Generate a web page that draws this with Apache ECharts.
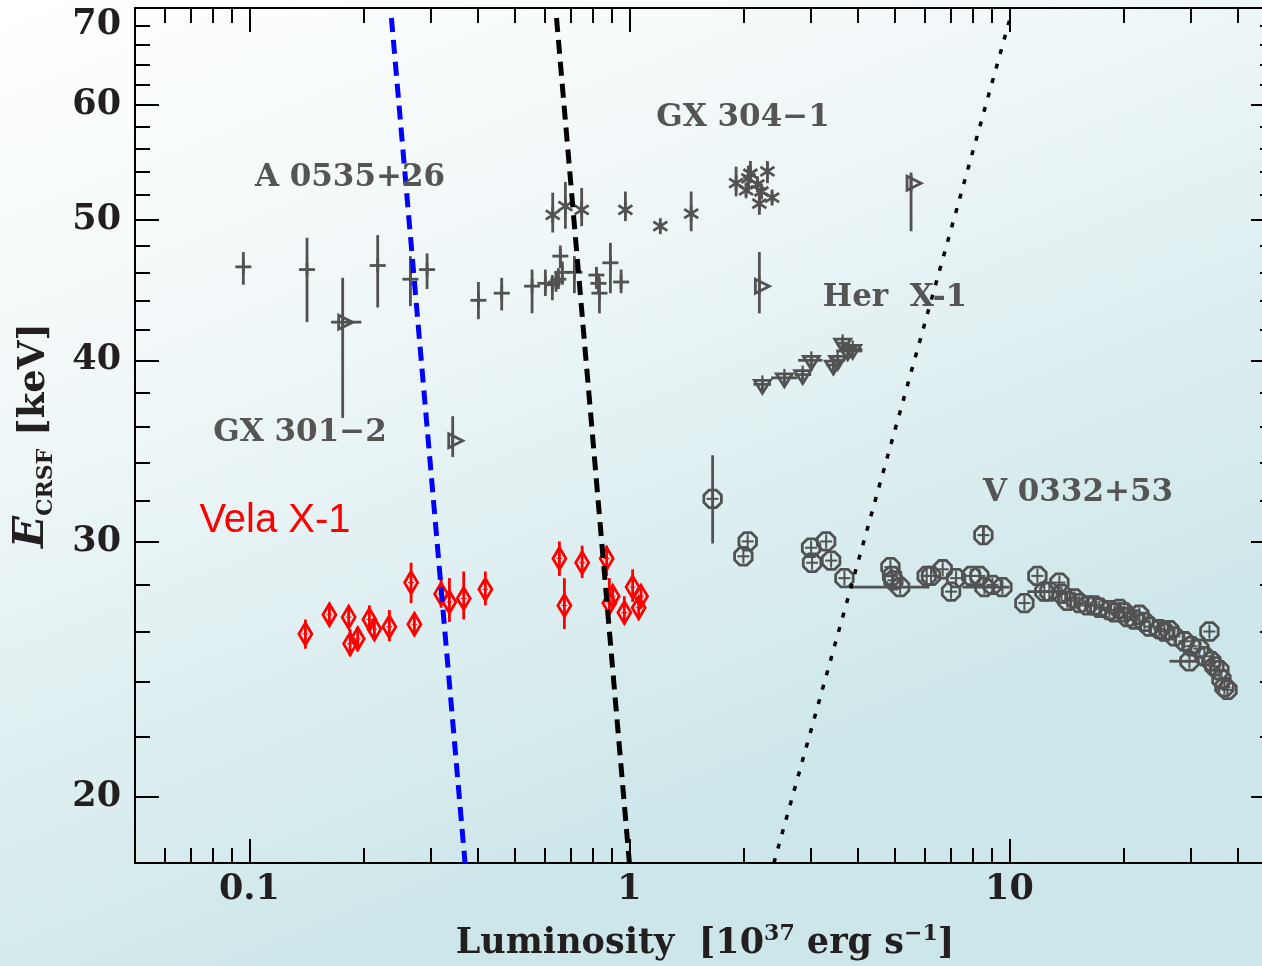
<!DOCTYPE html>
<html><head><meta charset="utf-8">
<script src="https://cdn.jsdelivr.net/npm/echarts@6/dist/echarts.min.js"></script>
<style>html,body{margin:0;padding:0;background:#fff;}#c{width:1262px;height:966px;}</style>
</head><body><div id="c"></div>
<script>
// ---- axis ticks ----
const xRange = [0.05, 50];   // right frame lies just beyond the picture edge
const xMajorTicks = [0.1, 1, 10];
const xMajorLabels = ['0.1', '1', '10'];
const xMinorTicks = [0.06,0.07,0.08,0.09,0.2,0.3,0.4,0.5,0.6,0.7,0.8,0.9,2,3,4,5,6,7,8,9,20,30,40];
const yRange = [18, 70];
const yMajorTicks = [20, 30, 40, 50, 60, 70];
const yMinorTicks = [22,24,26,28,32,34,36,38,42,44,46,48,52,54,56,58,62,64,66,68];

// ---- data: [L, E, Elow, Ehigh, Llow, Lhigh] ----
const a0535 = [
 [0.0964,46.4,45.1,47.5],[0.1418,46.2,42.5,48.6],[0.2176,46.5,43.5,48.8],[0.2653,45.5,43.6,47.2],
 [0.2935,46.2,44.8,47.4],[0.4006,44.0,42.7,45.3],[0.4613,44.5,43.3,45.6],[0.5545,45.0,43.1,46.2],
 [0.601,45.2,44.3,46.2],[0.627,45.1,44.0,45.8],[0.6414,45.3,44.6,46.0],[0.6504,45.5,44.8,46.3],
 [0.658,47.2,46.3,48.0],[0.666,46.0,45.1,46.8],[0.7166,46.0,44.5,47.2],[0.8188,45.8,44.8,46.4],
 [0.8288,45.2,44.5,45.9],[0.834,44.5,43.1,45.6],[0.8913,46.7,44.5,48.2],[0.951,45.3,44.5,46.2]
];
const gx304 = [
 [0.6284,50.4,49.0,52.2],[0.6785,51.1,49.3,53.1],[0.7489,50.8,49.5,52.6],[0.976,50.8,49.9,52.3],
 [1.206,49.5,49.2,49.8],[1.454,50.5,49.1,52.3],[1.909,53.0,51.9,54.4],[2.057,53.4,52.2,54.5],
 [2.082,53.8,53.0,54.9],[2.028,52.4,51.9,52.9],[2.172,52.9,52.3,53.5],[2.198,51.3,50.4,52.6],
 [2.308,54.0,53.0,54.9],[2.374,51.8,51.3,52.3],[2.226,52.3,51.7,52.9]
];
const gx301 = [
 [0.176,42.5,36.5,45.6,0.164,0.197],[0.3428,35.2,34.3,36.6],[2.198,45.0,43.1,47.5],[5.511,53.0,49.1,53.9]
];
const herx1 = [
 [2.239,38.5,38.2,38.8,2.12,2.36],[2.558,38.9,38.6,39.2,2.36,2.77],[2.858,39.1,38.8,39.4,2.72,3.01],
 [3.012,40.0,39.7,40.3,2.78,3.22],[3.442,39.7,39.4,40.0,3.3,3.6],[3.533,40.0,39.7,40.3,3.4,3.7],
 [3.641,41.1,40.7,41.5,3.5,3.8],[3.754,40.6,40.3,40.9,3.5,4.1],[3.869,40.7,40.4,41.0,3.6,4.1]
];
const v0332 = [
 [1.656,32.1,29.9,34.4],[2.048,30.0],[1.995,29.3],[3.007,29.7],[3.294,30.0],[3.025,29.0],[3.395,29.1],
 [3.680,28.3],[4.863,28.8],[4.913,28.4],[4.951,28.2],[5.157,27.9,null,null,3.84,6.16],[6.059,28.4],
 [6.221,28.4],[6.675,28.7],[7.239,28.3],[7.023,27.7],[8.542,30.3,29.9,30.7],[7.931,28.4],[8.339,28.4],
 [8.596,27.9,null,null,7.52,10.0],[9.022,28.0],[9.585,27.9],
 [10.95,27.2],[11.85,28.4],[12.36,27.7,null,null,11.15,13.71],[12.74,27.7],[13.54,28.1],[13.71,27.6],
 [14.21,27.3],[14.83,27.4],[15.29,27.2],[16.04,27.1],[16.74,27.1],[17.25,27.0],[18.33,26.9],
 [18.89,26.8],[19.48,26.95],[20.07,26.8],[20.44,26.6],[21.33,26.5],[21.98,26.7],[22.66,26.4],
 [23.36,26.2],[24.81,26.1],[25.58,26.0],[26.37,26.05],[27.18,25.8],[28.87,25.6],
 [29.77,24.8,null,null,26.37,31.62],[30.13,25.4],[31.62,25.3],[32.6,25.0],[33.6,26.0],[34.0,24.8],
 [34.64,24.6],[35.7,24.45],[36.14,24.1],[36.8,23.8],[37.5,23.7]
];
const velax1 = [
 [0.1404,25.9,25.3,26.5],[0.1624,26.7,26.3,27.1],[0.1825,26.6,26.2,27.1],[0.1841,25.5,25.0,26.1],
 [0.1928,25.7,25.2,26.2],[0.2069,26.5,26.0,27.1],[0.2133,26.1,25.7,26.6],[0.2335,26.2,25.6,26.9],
 [0.2664,28.1,27.2,29.0],[0.2718,26.3,25.9,26.7],[0.3195,27.6,27.0,28.3],[0.336,27.25,26.4,28.3],
 [0.3664,27.4,26.5,28.6],[0.4178,27.8,27.1,28.6],[0.6544,29.2,28.4,30.0],[0.6745,27.1,26.1,28.3],
 [0.7511,29.0,28.3,29.8],[0.8714,29.2,28.4,29.8],[0.9039,27.5,27.0,28.0],[0.8857,27.2,26.7,28.3],
 [0.97,26.8,26.3,27.5],[1.02,27.9,27.25,28.7],[1.073,27.5,27.0,28.0],[1.058,27.0,26.5,27.5]
];
// reference lines: [[L1,E1],[L2,E2]]
const blueDashed = [[0.2365,68.9],[0.3694,18]];
const blackDashed = [[0.643,68.9],[1.0,18]];
const blackDotted = [[2.40,18],[10.0,68.6]];

// ---- build ----
const L = Math.log10;
const GREY = '#525252', RED = '#ff0000';
const FONT = 'DejaVu Serif';
function rows(arr){
  return arr.map(d => {
    const x = d[0], y = d[1];
    return [L(x), L(y), L(d[2] ?? y), L(d[3] ?? y), L(d[4] ?? x), L(d[5] ?? x)];
  });
}
function seg(x1,y1,x2,y2,c,w){ return {type:'line', shape:{x1,y1,x2,y2}, style:{stroke:c, lineWidth:w, fill:null}}; }
function poly(pts,c,w){ return {type:'polygon', shape:{points:pts}, style:{stroke:c, lineWidth:w, fill:'none'}}; }
const markers = {
  plus: (x,y,c)=>[seg(x-8,y,x+8,y,c,2.8), seg(x,y-7,x,y+7,c,2.8)],
  aster: (x,y,c)=>[seg(x,y-8,x,y+8,c,2.8), seg(x-7,y-4.5,x+7,y+4.5,c,2.8), seg(x-7,y+4.5,x+7,y-4.5,c,2.8)],
  triR: (x,y,c)=>[poly([[x-4,y-7],[x+10,y],[x-4,y+7]],c,2.8), seg(x,y-8,x,y+8,c,2.8)],
  triD: (x,y,c)=>[poly([[x-8,y-4],[x+8,y-4],[x,y+9]],c,2.8), seg(x,y-9,x,y+9,c,2.2)],
  oct: (x,y,c)=>{
    const p=[]; for(let k=0;k<8;k++){const a=Math.PI/8+k*Math.PI/4; p.push([x+9.5*Math.cos(a), y+9.5*Math.sin(a)]);}
    return [poly(p,c,2.8), seg(x-6,y,x+6,y,c,2), seg(x,y-7,x,y+7,c,2)];
  },
  diam: (x,y,c)=>[poly([[x,y-11],[x+6.5,y],[x,y+11],[x-6.5,y]],c,2.8), seg(x-3,y,x+3,y,c,1), seg(x,y-4,x,y+4,c,1)]
};
function errSeries(arr, kind, color){
  return {
    type:'custom', xAxisIndex:0, yAxisIndex:0, z:3,
    data: rows(arr),
    encode:{x:0, y:1},
    renderItem:(params, api)=>{
      const p = api.coord([api.value(0), api.value(1)]);
      const lo = api.coord([api.value(0), api.value(2)]);
      const hi = api.coord([api.value(0), api.value(3)]);
      const xl = api.coord([api.value(4), api.value(1)]);
      const xh = api.coord([api.value(5), api.value(1)]);
      const ch = [];
      if (Math.abs(lo[1]-hi[1]) > 1) ch.push(seg(p[0], lo[1], p[0], hi[1], color, 2.8));
      if (Math.abs(xl[0]-xh[0]) > 1) ch.push(seg(xl[0], p[1], xh[0], p[1], color, 2.8));
      markers[kind](p[0], p[1], color).forEach(e=>ch.push(e));
      return {type:'group', children:ch};
    }
  };
}
function refLine(pts, color, dash, w){
  return {type:'line', xAxisIndex:0, yAxisIndex:0, z:5, symbol:'none', silent:true,
    data: pts.map(p=>[L(p[0]), L(p[1])]),
    lineStyle:{color, width:w, type:dash, cap:'butt'}};
}
const xl = v => { const i = xMajorTicks.findIndex(t => Math.abs(L(t)-v) < 1e-6); return i>=0 ? xMajorLabels[i] : ''; };
const yl = v => { const n = Math.round(Math.pow(10, v)); return n === 70 ? '{t|70}' : String(n); };
const lblStyle = {fontFamily:FONT, fontWeight:'bold', fontSize:35, color:'#231f20'};
function xAx(pos, ticks, len, showLabel, showLine){
  return {type:'value', position:pos, min:L(xRange[0]), max:L(xRange[1]),
    axisLine:{show:showLine, onZero:false, lineStyle:{color:'#000', width:2}},
    axisTick:{show:true, inside:true, length:len, customValues:ticks.map(L), lineStyle:{color:'#000', width:2}},
    axisLabel:{show:showLabel, customValues:ticks.map(L), formatter:xl, margin:9, ...lblStyle},
    splitLine:{show:false}};
}
function yAx(pos, ticks, len, showLabel, showLine){
  return {type:'value', position:pos, min:L(yRange[0]), max:L(yRange[1]),
    axisLine:{show:showLine, onZero:false, lineStyle:{color:'#000', width:2}},
    axisTick:{show:true, inside:true, length:len, customValues:ticks.map(L), lineStyle:{color:'#000', width:2}},
    axisLabel:{show:showLabel, customValues:ticks.map(L), formatter:yl, margin:14, ...lblStyle,
      rich:{t:{...lblStyle, padding:[34,0,0,0]}}},
    splitLine:{show:false}};
}
const xAxes = [xAx('bottom', xMajorTicks, 24, true, true), xAx('bottom', xMinorTicks, 15, false, false),
               xAx('top', xMajorTicks, 24, false, true), xAx('top', xMinorTicks, 15, false, false)];
xAxes[0].name = 'Luminosity  [10{sup|37} erg s{sup|−1}]';
xAxes[0].nameLocation = 'middle';
xAxes[0].nameGap = 60;
xAxes[0].nameTextStyle = {fontFamily:FONT, fontWeight:'bold', fontSize:35, color:'#231f20',
  rich:{sup:{fontFamily:FONT, fontWeight:'bold', fontSize:22, color:'#231f20', verticalAlign:'top', lineHeight:42}}};
const yAxes = [yAx('left', yMajorTicks, 24, true, true), yAx('left', yMinorTicks, 15, false, false),
               yAx('right', yMajorTicks, 24, false, true), yAx('right', yMinorTicks, 15, false, false)];
yAxes[0].name = '{e|E}{s|CRSF} [keV]';
yAxes[0].nameLocation = 'middle';
yAxes[0].nameGap = 78;
yAxes[0].nameRotate = 90;
yAxes[0].nameTextStyle = {fontFamily:FONT, fontWeight:'bold', fontSize:37, color:'#231f20',
  rich:{e:{fontFamily:FONT, fontStyle:'italic', fontWeight:'bold', fontSize:42, color:'#231f20', lineHeight:46, verticalAlign:'top'},
        s:{fontFamily:FONT, fontWeight:'bold', fontSize:22, color:'#231f20', lineHeight:46, verticalAlign:'bottom'}}};

function note(text, x, y, color, family, size, weight){
  return {type:'text', x, y, z:10, style:{text, fontFamily:family, fontSize:size, fontWeight:weight, fill:color, align:'center', verticalAlign:'middle'}};
}
const option = {
  animation:false,
  backgroundColor:{type:'linear', x:0, y:0, x2:0.3, y2:1, colorStops:[{offset:0, color:'#ffffff'},{offset:0.4, color:'#f0f7f8'},{offset:1, color:'#cce6e9'}]},
  grid:{left:135, top:8, width:1140, height:855, containLabel:false, outerBoundsMode:'none'},
  xAxis: xAxes,
  yAxis: yAxes,
  series:[
    errSeries(a0535,'plus',GREY), errSeries(gx304,'aster',GREY), errSeries(gx301,'triR',GREY),
    errSeries(herx1,'triD',GREY), errSeries(v0332,'oct',GREY), errSeries(velax1,'diam',RED),
    refLine(blueDashed,'#0000ff',[14,8],5), refLine(blackDashed,'#000000',[14,8],5), refLine(blackDotted,'#000000',[5,10],3.5)
  ],
  graphic:[
    note('GX 304−1', 743, 118, '#555555', FONT, 31, 'bold'),
    note('A 0535+26', 350, 178, '#555555', FONT, 31, 'bold'),
    note('Her  X-1', 895, 298, '#555555', FONT, 31, 'bold'),
    note('GX 301−2', 300, 433, '#555555', FONT, 31, 'bold'),
    note('V 0332+53', 1078, 493, '#555555', FONT, 31, 'bold'),
    note('Vela X-1', 275, 521, '#ff0000', 'Liberation Sans', 40, 'normal')
  ]
};
const chart = echarts.init(document.getElementById('c'), null, {renderer:'canvas'});
chart.setOption(option);
</script>
</body></html>
